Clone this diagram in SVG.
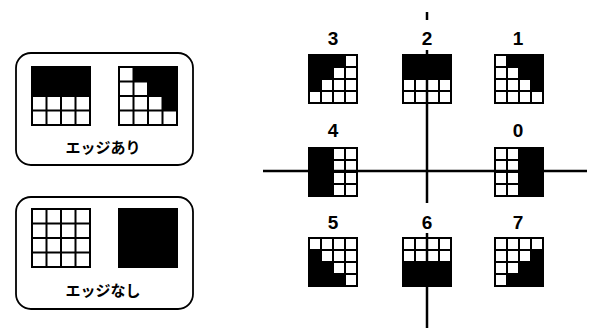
<svg xmlns="http://www.w3.org/2000/svg" xmlns:xlink="http://www.w3.org/1999/xlink" width="591" height="329" viewBox="0 0 591 329">
<style>
.panel{fill:#fff;stroke:#000;stroke-width:1.8}
.bg{fill:#fff}
.blk{fill:#000}
.grid{fill:none;stroke:#000;stroke-width:2}
.gridL{fill:none;stroke:#000;stroke-width:2}
.num{font-family:"Liberation Sans",Arial,sans-serif;font-size:19px;font-weight:bold;text-anchor:middle;fill:#000}
.jp{font-family:"Noto Sans CJK JP","Noto Sans",sans-serif;font-size:15px;font-weight:bold;text-anchor:middle;fill:#000}
.axis{stroke:#000;stroke-width:2.5;fill:none}
</style>
<defs>
<path id="g4" class="grid" d="M0,0H48V48H0Z M12,0V48 M24,0V48 M36,0V48 M0,12H48 M0,24H48 M0,36H48"/>
<path id="g5" class="gridL" d="M0,0H58V58H0Z M14.5,0V58 M29,0V58 M43.5,0V58 M0,14.5H58 M0,29H58 M0,43.5H58"/>
</defs>
<rect width="591" height="329" fill="#fff"/>

<g id="panel-edge">
<rect class="panel" x="16" y="53" width="177" height="112" rx="15"/>
<rect class="bg" x="32" y="67" width="58" height="58"/>
<rect class="blk" x="32" y="67" width="58" height="29"/>
<use xlink:href="#g5" x="32" y="67"/>
<rect class="bg" x="119" y="67" width="58" height="58"/>
<path class="blk" d="M133.5,67H177V110.5H162.5V96H148V81.5H133.5Z"/>
<use xlink:href="#g5" x="119" y="67"/>
<text class="jp" x="103" y="153">エッジあり</text>
</g>

<g id="panel-noedge">
<rect class="panel" x="16" y="197" width="177" height="112" rx="15"/>
<rect class="bg" x="32" y="209" width="58" height="58"/>
<use xlink:href="#g5" x="32" y="209"/>
<rect class="blk" x="119" y="209" width="58" height="58"/>
<use xlink:href="#g5" x="119" y="209"/>
<text class="jp" x="103" y="296">エッジなし</text>
</g>

<g id="dir3">
<text class="num" x="333" y="45">3</text>
<g transform="translate(309,55)"><rect class="bg" width="48" height="48"/><path class="blk" d="M0,0H36V12H24V24H12V36H0Z"/><use xlink:href="#g4"/></g>
</g>
<g id="dir2">
<text class="num" x="427" y="45">2</text>
<g transform="translate(403,55)"><rect class="bg" width="48" height="48"/><rect class="blk" width="48" height="24"/><use xlink:href="#g4"/></g>
</g>
<g id="dir1">
<text class="num" x="518" y="45">1</text>
<g transform="translate(495,55)"><rect class="bg" width="48" height="48"/><path class="blk" d="M12,0H48V36H36V24H24V12H12Z"/><use xlink:href="#g4"/></g>
</g>
<g id="dir4">
<text class="num" x="333" y="137">4</text>
<g transform="translate(309,148)"><rect class="bg" width="48" height="48"/><rect class="blk" width="24" height="48"/><use xlink:href="#g4"/></g>
</g>
<g id="dir0">
<text class="num" x="518" y="137">0</text>
<g transform="translate(495,148)"><rect class="bg" width="48" height="48"/><rect class="blk" x="24" width="24" height="48"/><use xlink:href="#g4"/></g>
</g>
<g id="dir5">
<text class="num" x="333" y="229">5</text>
<g transform="translate(309,238)"><rect class="bg" width="48" height="48"/><path class="blk" d="M0,12H12V24H24V36H36V48H0Z"/><use xlink:href="#g4"/></g>
</g>
<g id="dir6">
<text class="num" x="427" y="229">6</text>
<g transform="translate(403,238)"><rect class="bg" width="48" height="48"/><rect class="blk" y="24" width="48" height="24"/><use xlink:href="#g4"/></g>
</g>
<g id="dir7">
<text class="num" x="518" y="229">7</text>
<g transform="translate(495,238)"><rect class="bg" width="48" height="48"/><path class="blk" d="M48,12V48H12V36H24V24H36V12Z"/><use xlink:href="#g4"/></g>
</g>

<g id="connectors">
<line class="axis" x1="427" y1="12" x2="427" y2="20" stroke-width="3"/>
<line class="axis" x1="427" y1="50" x2="427" y2="203"/>
<line class="axis" x1="427" y1="233" x2="427" y2="328"/>
<line class="axis" x1="263" y1="171" x2="587" y2="171"/>
</g>
</svg>
